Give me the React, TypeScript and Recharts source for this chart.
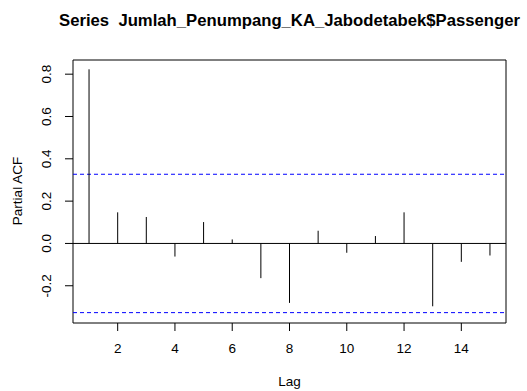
import React from "react";
import {
  ComposedChart,
  XAxis,
  YAxis,
  ReferenceLine,
  ReferenceArea,
} from "recharts";

const lags = [1, 2, 3, 4, 5, 6, 7, 8, 9, 10, 11, 12, 13, 14, 15];
const pacfValues = [
  0.823, 0.147, 0.125, -0.062, 0.101, 0.019, -0.164, -0.281, 0.06, -0.044,
  0.035, 0.147, -0.297, -0.087, -0.057,
];
const ciBound = 0.327;
const xTicks = [2, 4, 6, 8, 10, 12, 14];
const yTicks = [-0.2, 0, 0.2, 0.4, 0.6, 0.8];
const yTickLabels = ["-0.2", "0.0", "0.2", "0.4", "0.6", "0.8"];
const xDomain: [number, number] = [0.44, 15.56];
const yDomain: [number, number] = [-0.376, 0.867];
const title = "Series  Jumlah_Penumpang_KA_Jabodetabek$Passenger";

const data = lags.map((lag, i) => ({ lag, value: pacfValues[i] }));

const FONT = "'Liberation Sans', Arial, sans-serif";

const YTick = (props: any) => {
  const { x, y, payload } = props;
  const idx = yTicks.indexOf(payload.value);
  const label = idx >= 0 ? yTickLabels[idx] : String(payload.value);
  return (
    <text
      x={0}
      y={0}
      transform={`translate(${x - 16.5},${y}) rotate(-90)`}
      textAnchor="middle"
      dominantBaseline="central"
      fontSize={13.5}
      fontFamily={FONT}
      fill="#000"
    >
      {label}
    </text>
  );
};

const XTick = (props: any) => {
  const { x, y, payload } = props;
  return (
    <text
      x={x}
      y={y + 15.5}
      textAnchor="middle"
      dominantBaseline="central"
      fontSize={13.5}
      fontFamily={FONT}
      fill="#000"
    >
      {payload.value}
    </text>
  );
};

export default function App() {
  return (
    <div style={{ position: "absolute", left: 0, top: 0, width: 527, height: 391, background: "#fff" }}>
      <ComposedChart
        width={527}
        height={391}
        data={data}
        margin={{ top: 60, right: 21, bottom: 0, left: 0 }}
      >
        <XAxis
          dataKey="lag"
          type="number"
          domain={xDomain}
          ticks={xTicks}
          allowDataOverflow
          height={68}
          axisLine={false}
          tickLine={{ stroke: "#000", strokeWidth: 1 }}
          tickSize={8}
          tick={<XTick />}
          interval={0}
        />
        <YAxis
          type="number"
          domain={yDomain}
          ticks={yTicks}
          allowDataOverflow
          width={73}
          axisLine={false}
          tickLine={{ stroke: "#000", strokeWidth: 1 }}
          tickSize={8}
          tick={<YTick />}
          interval={0}
        />
        <ReferenceArea
          x1={xDomain[0]}
          x2={xDomain[1]}
          y1={yDomain[0]}
          y2={yDomain[1]}
          fill="none"
          stroke="#000"
          strokeWidth={1}
          ifOverflow="visible"
        />
        <ReferenceLine y={0} stroke="#000" strokeWidth={1} />
        <ReferenceLine y={ciBound} stroke="#0000ff" strokeDasharray="4 3" strokeWidth={1} />
        <ReferenceLine y={-ciBound} stroke="#0000ff" strokeDasharray="4 3" strokeWidth={1} />
        {data.map((d) => (
          <ReferenceLine
            key={d.lag}
            segment={[
              { x: d.lag, y: 0 },
              { x: d.lag, y: d.value },
            ]}
            stroke="#000"
            strokeWidth={1}
            ifOverflow="visible"
          />
        ))}
      </ComposedChart>
      <div
        style={{
          position: "absolute",
          left: 0,
          top: 8,
          width: 579,
          textAlign: "center",
          fontFamily: FONT,
          fontWeight: "bold",
          fontSize: 16.7,
          lineHeight: "26px",
          whiteSpace: "pre",
          color: "#000",
        }}
      >
        {title}
      </div>
      <div
        style={{
          position: "absolute",
          left: 0,
          top: 370,
          width: 579,
          textAlign: "center",
          fontFamily: FONT,
          fontSize: 13.5,
          lineHeight: "24px",
          color: "#000",
        }}
      >
        Lag
      </div>
      <div
        style={{
          position: "absolute",
          left: 18,
          top: 191,
          transform: "translate(-50%, -50%) rotate(-90deg)",
          fontFamily: FONT,
          fontSize: 13.5,
          lineHeight: "16px",
          whiteSpace: "nowrap",
          color: "#000",
        }}
      >
        Partial ACF
      </div>
    </div>
  );
}
